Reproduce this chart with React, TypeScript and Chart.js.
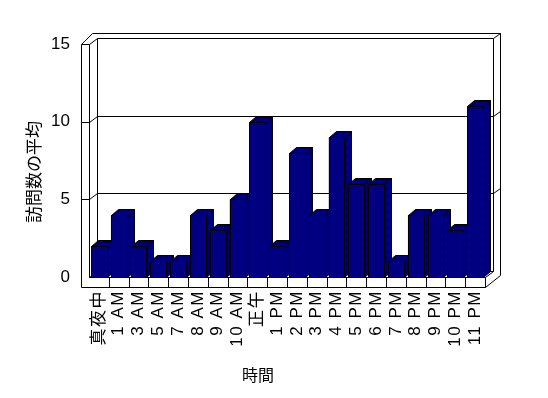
import React, { useEffect, useRef } from 'react';
import { Chart, registerables } from 'chart.js';

Chart.register(...registerables);

const categories = ['真夜中', '1 AM', '3 AM', '5 AM', '7 AM', '8 AM', '9 AM', '10 AM', '正午', '1 PM', '2 PM', '3 PM', '4 PM', '5 PM', '6 PM', '7 PM', '8 PM', '9 PM', '10 PM', '11 PM'];
const visits = [2, 4, 2, 1, 1, 4, 3, 5, 10, 2, 8, 4, 9, 6, 6, 1, 4, 4, 3, 11];
const yGridValues = [5, 10];
const yTitle = '訪問数の平均';
const xTitle = '時間';

const FONT = '"Liberation Sans", "Noto Sans CJK JP", sans-serif';
const NAVY = '#000080';
const WALL_T = 8;
const FLOOR_T = 10;
const DX = 8;
const DY = -6;
const BDX = 7;
const BDY = -6;

function makePattern(ctx: CanvasRenderingContext2D) {
  const c = document.createElement('canvas');
  c.width = 2;
  c.height = 2;
  const p = c.getContext('2d')!;
  p.fillStyle = '#000';
  p.fillRect(0, 0, 2, 2);
  p.fillStyle = NAVY;
  p.fillRect(0, 0, 1, 1);
  p.fillRect(1, 1, 1, 1);
  return ctx.createPattern(c, 'repeat') || '#000040';
}

const r = (v: number) => Math.round(v) + 0.5;

function seg(ctx: CanvasRenderingContext2D, x1: number, y1: number, x2: number, y2: number) {
  ctx.beginPath();
  ctx.moveTo(r(x1), r(y1));
  ctx.lineTo(r(x2), r(y2));
  ctx.stroke();
}

function poly(ctx: CanvasRenderingContext2D, pts: number[][], fill: any) {
  ctx.beginPath();
  pts.forEach((p, i) => (i ? ctx.lineTo(r(p[0]), r(p[1])) : ctx.moveTo(r(p[0]), r(p[1]))));
  ctx.closePath();
  ctx.fillStyle = fill;
  ctx.fill();
  ctx.stroke();
}

const box3d = {
  id: 'box3d',
  beforeDatasetsDraw(chart: any) {
    const { ctx, chartArea: a, scales } = chart;
    const L = a.left, R = a.right, T = a.top, B = a.bottom;
    ctx.save();
    ctx.strokeStyle = '#000';
    ctx.lineWidth = 1;
    // front L frame
    seg(ctx, L - WALL_T, T, L - WALL_T, B + FLOOR_T);
    seg(ctx, L - WALL_T, B + FLOOR_T, R, B + FLOOR_T);
    seg(ctx, R, B, R, B + FLOOR_T);
    seg(ctx, L, T, L, B);
    seg(ctx, L - WALL_T, T, L, T);
    seg(ctx, L, B, R, B);
    // floor back edges
    seg(ctx, L, B, L + DX, B + DY);
    seg(ctx, L + DX, B + DY, R + DX, B + DY);
    seg(ctx, R, B, R + DX, B + DY);
    seg(ctx, R, B + FLOOR_T, R + DX + 7, B - 2);
    // back wall
    seg(ctx, L + DX, T + DY, R + DX, T + DY);
    seg(ctx, L + DX, T + DY, L + DX, B + DY);
    seg(ctx, R + DX, T + DY, R + DX, B + DY);
    seg(ctx, L, T, L + DX, T + DY);
    seg(ctx, L - WALL_T, T, L + 3, T - 11);
    seg(ctx, L + 3, T - 11, R + DX + 7, T - 11);
    seg(ctx, R + DX, T + DY, R + DX + 7, T - 11);
    seg(ctx, R + DX + 7, T - 11, R + DX + 7, B - 2);
    // gridlines
    yGridValues.forEach((v) => {
      const yF = scales.y.getPixelForValue(v);
      seg(ctx, L - WALL_T, yF, L, yF);
      seg(ctx, L, yF, L + DX, yF + DY);
      seg(ctx, L + DX, yF + DY, R + DX, yF + DY);
      seg(ctx, R + DX, yF + DY, R + DX + 7, yF + DY - 5);
    });
    // category ticks on floor front
    const xs = scales.x;
    for (let i = 1; i < categories.length; i++) {
      const xt = (xs.getPixelForValue(i - 1) + xs.getPixelForValue(i)) / 2;
      seg(ctx, xt, B, xt, B + FLOOR_T);
    }
    ctx.restore();
  },
  afterDatasetsDraw(chart: any) {
    const { ctx } = chart;
    const pattern = makePattern(ctx);
    const meta = chart.getDatasetMeta(0);
    ctx.save();
    ctx.strokeStyle = '#000';
    ctx.lineWidth = 1;
    meta.data.forEach((el: any) => {
      const { x, y, base, width } = el.getProps(['x', 'y', 'base', 'width'], true);
      const x0 = x - width / 2;
      const x1 = x + width / 2;
      poly(ctx, [[x0, y], [x1, y], [x1 + BDX, y + BDY], [x0 + BDX, y + BDY]], pattern);
      poly(ctx, [[x1, y], [x1 + BDX, y + BDY], [x1 + BDX, base + BDY], [x1, base]], pattern);
      poly(ctx, [[x0, y], [x1, y], [x1, base], [x0, base]], NAVY);
    });
    ctx.restore();
    // wider spacing for the category labels drawn next (x ticks layer z=1)
    (ctx as any).letterSpacing = '1.5px';
  },
  afterDraw(chart: any) {
    const { ctx } = chart;
    (ctx as any).letterSpacing = '0px';
    ctx.save();
    ctx.fillStyle = '#000';
    ctx.textAlign = 'center';
    ctx.textBaseline = 'middle';
    ctx.font = `17px ${FONT}`;
    ctx.translate(35, 172);
    ctx.rotate(-Math.PI / 2);
    ctx.fillText(yTitle, 0, 0);
    ctx.restore();
    ctx.save();
    ctx.fillStyle = '#000';
    ctx.textAlign = 'center';
    ctx.textBaseline = 'middle';
    ctx.font = `16px ${FONT}`;
    ctx.fillText(xTitle, 258, 377);
    ctx.restore();
  },
};

export default function App() {
  const ref = useRef<HTMLCanvasElement>(null);
  useEffect(() => {
    const chart = new Chart(ref.current!, {
      type: 'bar',
      data: {
        labels: categories,
        datasets: [
          {
            data: visits,
            backgroundColor: NAVY,
            borderColor: '#000',
            borderWidth: 1,
            barPercentage: 0.8,
            categoryPercentage: 1.0,
          },
        ],
      },
      options: {
        animation: false,
        responsive: false,
        devicePixelRatio: 1,
        layout: { padding: { left: 0, top: 44, right: 63, bottom: 0 } },
        plugins: { legend: { display: false }, tooltip: { enabled: false }, title: { display: false } },
        scales: {
          x: {
            grid: { display: false },
            border: { display: false },
            ticks: {
              autoSkip: false,
              minRotation: 90,
              maxRotation: 90,
              padding: 5,
              z: 1,
              color: '#000',
              font: { family: FONT, size: 17 },
            },
            afterFit: (s: any) => {
              s.height = 121;
            },
          },
          y: {
            min: 0,
            max: 15,
            grid: { display: false },
            border: { display: false },
            ticks: {
              stepSize: 5,
              padding: 11,
              color: '#000',
              font: { family: FONT, size: 17 },
            },
            afterFit: (s: any) => {
              s.width = 89;
            },
          },
        },
      },
      plugins: [box3d],
    } as any);
    return () => chart.destroy();
  }, []);
  return (
    <div style={{ position: 'absolute', left: 0, top: 0, width: 548, height: 398, background: '#fff' }}>
      <canvas ref={ref} width={548} height={398} style={{ display: 'block', width: 548, height: 398 }} />
    </div>
  );
}
